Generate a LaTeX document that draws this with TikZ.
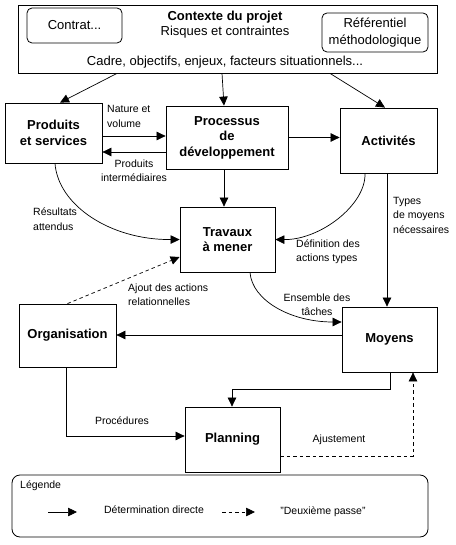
\documentclass[tikz,border=0pt]{standalone}
\usepackage{fontspec}
\setmainfont{Liberation Sans}
\usetikzlibrary{arrows.meta,calc}
\tikzset{
  arr/.style={line width=0.7pt,-{Triangle[length=9pt,width=8.5pt]}},
  darr/.style={arr,dash pattern=on 3.5pt off 3pt},
  box/.style={draw,line width=0.8pt,align=center,inner sep=0pt,font=\fontsize{13}{15.5}\selectfont\bfseries},
  rbox/.style={draw,line width=0.8pt,rounded corners=5pt,align=center,inner sep=0pt,font=\fontsize{13}{16.5}\selectfont},
  lbl/.style={font=\fontsize{10.5}{14.5}\selectfont,inner sep=0pt},
  big/.style={font=\fontsize{13}{15.5}\selectfont,inner sep=0pt,align=center}
}
\begin{document}
\begin{tikzpicture}[x=1pt,y=-1pt]
\useasboundingbox (0,0) rectangle (455,545);
% top context
\node[draw,line width=0.8pt,minimum width=419pt,minimum height=68pt,inner sep=0pt] (top) at (227.5,39) {};
\node[rbox,minimum width=95pt,minimum height=35pt] (contrat) at (74.5,25.5) {Contrat...};
\node[rbox,minimum width=106pt,minimum height=39pt] (ref) at (375,32.5) {Référentiel\\méthodologique};
\node[big] (ctx) at (225,24.5) {\textbf{Contexte du projet}\\Risques et contraintes};
\node[big] (cadre) at (225,62) {Cadre, objectifs, enjeux, facteurs situationnels...};
% main boxes
\node[box,minimum width=97pt,minimum height=60pt] (prod) at (53.5,133) {Produits\\et services};
\node[box,minimum width=122pt,minimum height=63pt] (proc) at (227,137.5) {Processus\\de\\développement};
\node[box,minimum width=97pt,minimum height=65pt] (act) at (388.5,140.5) {Activités};
\node[box,minimum width=95pt,minimum height=65pt] (trav) at (227.5,239.5) {Travaux\\à mener};
\node[box,minimum width=95pt,minimum height=65pt] (moy) at (389.5,339.5) {Moyens};
\node[box,minimum width=97pt,minimum height=63pt] (org) at (67.5,335.5) {Organisation};
\node[box,minimum width=95pt,minimum height=65pt] (plan) at (232.5,439.5) {Planning};
% arrows from context
\draw[arr] ([xshift=-110.5pt]top.south) -- ([xshift=6.5pt]prod.north);
\draw[arr] ([xshift=-5.5pt]top.south) -- ([xshift=-3pt]proc.north);
\draw[arr] ([xshift=102.5pt]top.south) -- ([xshift=-3.5pt]act.north);
% produits <-> processus
\draw[arr] ([yshift=-3pt]prod.east) -- ([yshift=-3pt]prod.east -| proc.west);
\draw[arr] ([yshift=-14.5pt]proc.west) -- ([yshift=-14.5pt]proc.west -| prod.east);
\draw[arr] (proc.east) -- (proc.east -| act.west);
\draw[arr] ([xshift=-3pt]proc.south) -- ([xshift=-3pt]proc.south |- trav.north);
% curves
\draw[arr] ([xshift=1.5pt]prod.south) .. controls (58,205) and (110,240) .. (trav.west);
\draw[arr] ([xshift=-23.5pt]act.south) .. controls (366,205) and (320,240) .. (trav.east);
\draw[arr] ([xshift=-1.5pt]act.south) -- ([xshift=-1.5pt]act.south |- moy.north);
\draw[arr] ([xshift=22.5pt]trav.south) .. controls (252,300) and (290,322) .. ([yshift=17.5pt]moy.west);
\draw[darr] (org.north) -- ([yshift=-17.5pt]trav.west);
\draw[arr] ([yshift=4.5pt]moy.west) -- ([yshift=4.5pt]moy.west -| org.east);
\draw[arr] ([xshift=-1.5pt]org.south) |- ([yshift=3.5pt]plan.west);
\draw[arr] ([xshift=0.5pt]moy.south) -- ++(0,17) -| ([xshift=-0.5pt]plan.north);
\draw[darr] ([yshift=-16.5pt]plan.east) -| ([xshift=23.5pt]moy.south);
% labels
\node[lbl,anchor=west,align=left] (l1) at (107,116.5) {Nature et\\volume};
\node[lbl,align=center] (l2) at (134,170.5) {Produits\\intermédiaires};
\node[lbl,anchor=west,align=left] (l3) at (33,219) {Résultats\\attendus};
\node[lbl,anchor=west,align=left] (l4) at (296,251.5) {Définition des\\actions types};
\node[lbl,anchor=west,align=left] (l5) at (393,215) {Types\\de moyens\\nécessaires};
\node[lbl,align=center] (l6) at (317,304.5) {Ensemble des\\tâches};
\node[lbl,anchor=west,align=left] (l7) at (128,294.5) {Ajout des actions\\relationnelles};
\node[lbl] (l8) at (122,421) {Procédures};
\node[lbl] (l9) at (339,440) {Ajustement};
% legend
\node[draw,line width=0.8pt,rounded corners=8pt,minimum width=416pt,minimum height=62pt,inner sep=0pt] (leg) at (220,506) {};
\node[lbl,anchor=west] (legt) at (20,486) {Légende};
\coordinate (a1) at (48,512);
\coordinate (a2) at (77,512);
\draw[arr] (a1) -- (a2);
\node[lbl] (lt1) at (154,510) {Détermination directe};
\coordinate (b1) at (222,512);
\coordinate (b2) at (255,512);
\draw[darr] (b1) -- (b2);
\node[lbl] (lt2) at (323,512) {"Deuxième passe"};
\end{tikzpicture}
\end{document}
